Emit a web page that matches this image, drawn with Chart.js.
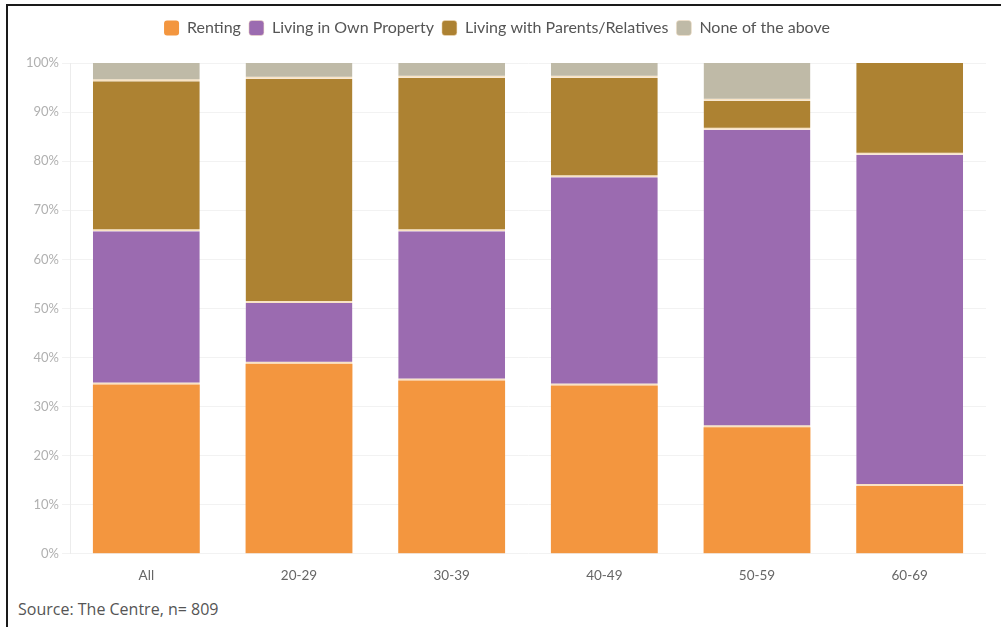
<!DOCTYPE html>
<html>
<head>
<meta charset="utf-8">
<script src="https://cdn.jsdelivr.net/npm/chart.js@4/dist/chart.umd.min.js"></script>
<style>
  html, body { margin: 0; padding: 0; background: #fff; }
  body { width: 1001px; height: 627px; position: relative; overflow: hidden; font-family: Lato, "Open Sans", sans-serif; }
  #frame { position: absolute; left: 6px; top: 4px; right: 0; bottom: 0; border-top: 2px solid #1a1a1a; border-left: 2px solid #1a1a1a; }
  #wrap { position: absolute; left: 8px; top: 6px; width: 990px; height: 585px; }
  #source { position: absolute; left: 18px; top: 598px; font-family: "Open Sans", sans-serif; font-size: 16px; color: #555; }
</style>
</head>
<body>
<div id="frame"></div>
<div id="wrap"><canvas id="chart"></canvas></div>
<div id="source">Source: The Centre, n= 809</div>
<script>
var categories = ['All', '20-29', '30-39', '40-49', '50-59', '60-69'];
var renting    = [34.5, 38.7, 35.3, 34.3, 25.8, 13.8];
var ownProp    = [31.2, 12.4, 30.4, 42.4, 60.6, 67.5];
var parents    = [30.6, 45.7, 31.3, 20.3, 5.9, 18.7];
var noneAbove  = [3.7, 3.2, 3.0, 3.0, 7.7, 0];

// thin light line under each segment that sits on top of another one
function series(label, data, color, sep) {
    return {
        label: label,
        data: data,
        backgroundColor: color,
        borderColor: '#f9e3c4',
        borderWidth: function(c) {
            if (!sep || !c.raw) return 0;
            return { top: 0, bottom: 2, left: 0, right: 0 };
        },
        borderSkipped: false,
        barPercentage: 0.7,
        categoryPercentage: 1
    };
}

// extra room between legend and plot
var legendGap = {
    id: 'legendGap',
    beforeInit: function(chart) {
        var fit = chart.legend.fit;
        chart.legend.fit = function() {
            fit.bind(chart.legend)();
            this.height += 17;
        };
    }
};

var ctx = document.getElementById('chart');
var myChart = new Chart(ctx, {
    type: 'bar',
    data: {
        labels: categories,
        datasets: [
            series('Renting', renting, '#f3963f', false),
            series('Living in Own Property', ownProp, '#9b6bb0', true),
            series('Living with Parents/Relatives', parents, '#ad8232', true),
            series('None of the above', noneAbove, '#bfbaa7', true)
        ]
    },
    plugins: [legendGap],
    options: {
        responsive: true,
        maintainAspectRatio: false,
        animation: false,
        layout: { padding: { left: 0, right: 12, top: 6, bottom: 1 } },
        plugins: {
            tooltip: { enabled: false },
            legend: {
                position: 'top',
                labels: {
                    boxWidth: 15,
                    boxHeight: 15,
                    useBorderRadius: true,
                    borderRadius: 3,
                    padding: 8,
                    color: '#555',
                    font: { family: 'Lato', size: 16 }
                }
            }
        },
        scales: {
            x: {
                stacked: true,
                grid: { display: false },
                border: { display: false },
                ticks: { color: '#666', font: { family: 'Lato', size: 13.5 }, padding: 6 }
            },
            y: {
                stacked: true,
                min: 0,
                max: 100,
                afterFit: function(scale) { scale.width = 62; },
                grid: { color: '#f2f2f2', drawTicks: true, tickLength: 8 },
                border: { display: true, color: '#ececec' },
                ticks: {
                    stepSize: 10,
                    color: '#b0b0b0',
                    font: { family: 'Lato', size: 13 },
                    callback: function(v) { return v + '%'; }
                }
            }
        }
    }
});
</script>
</body>
</html>
